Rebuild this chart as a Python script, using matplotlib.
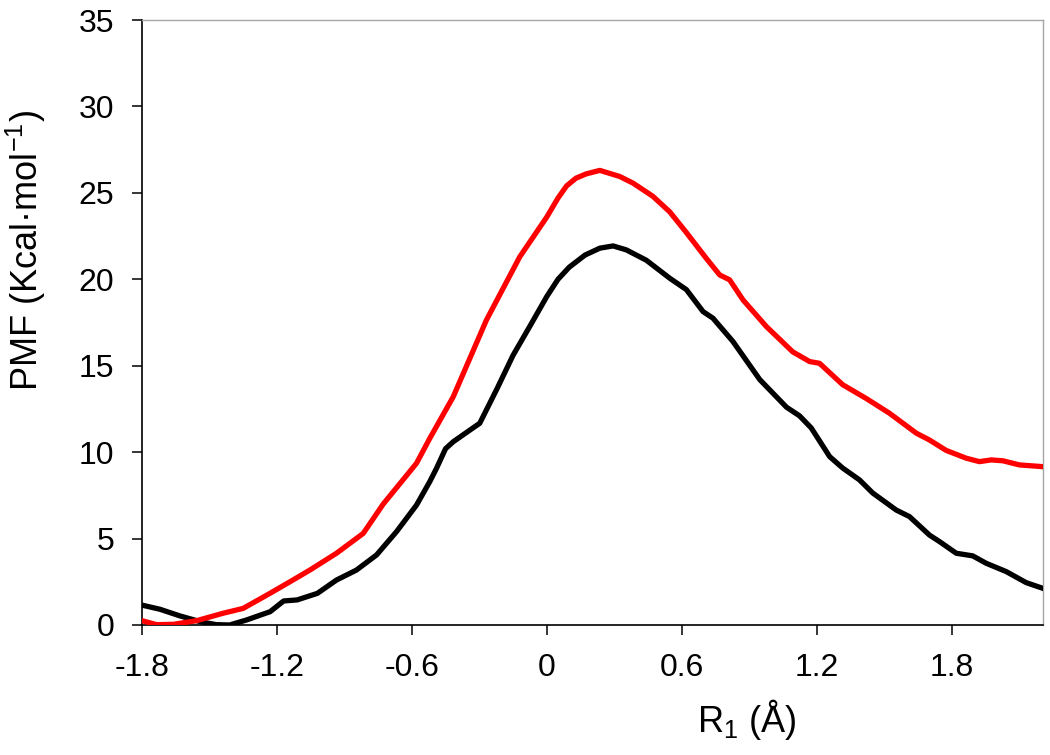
import matplotlib.pyplot as plt

plt.rcParams['font.family'] = ['Liberation Sans', 'DejaVu Sans']
plt.rcParams['mathtext.default'] = 'regular'

# black curve
black_x = [-1.80, -1.72, -1.63, -1.54, -1.47, -1.41, -1.335, -1.23, -1.17, -1.11,
           -1.02, -0.935, -0.846, -0.757, -0.668, -0.579, -0.52, -0.49, -0.45, -0.416,
           -0.328, -0.298, -0.22, -0.15, -0.07, 0.0, 0.05, 0.10, 0.17, 0.236, 0.295, 0.354,
           0.443, 0.547, 0.621, 0.695, 0.739, 0.828, 0.947, 1.066, 1.124, 1.176,
           1.258, 1.316, 1.391, 1.449, 1.554, 1.613, 1.702, 1.747, 1.821, 1.894,
           1.954, 2.043, 2.132, 2.206]
black_y = [1.15, 0.91, 0.52, 0.19, 0.02, 0.0, 0.29, 0.77, 1.39, 1.45,
           1.83, 2.6, 3.18, 4.05, 5.4, 6.94, 8.3, 9.07, 10.2, 10.6,
           11.4, 11.67, 13.7, 15.6, 17.4, 19.0, 20.0, 20.7, 21.4, 21.8, 21.93, 21.7,
           21.1, 20.06, 19.4, 18.13, 17.75, 16.4, 14.2, 12.6, 12.1, 11.4,
           9.74, 9.08, 8.39, 7.64, 6.65, 6.27, 5.2, 4.82, 4.15, 4.0,
           3.57, 3.09, 2.45, 2.12]

# red curve
red_x = [-1.80, -1.735, -1.66, -1.557, -1.439, -1.35, -1.231, -1.142, -1.053, -0.935,
         -0.816, -0.727, -0.639, -0.579, -0.52, -0.416, -0.268, -0.12, 0.0, 0.05, 0.088,
         0.13, 0.176, 0.236, 0.324, 0.384, 0.472, 0.547, 0.621, 0.71, 0.769, 0.813,
         0.873, 0.977, 1.094, 1.169, 1.213, 1.316, 1.421, 1.524, 1.643, 1.702,
         1.776, 1.865, 1.924, 1.976, 2.028, 2.102, 2.206]
red_y = [0.25, 0.02, 0.04, 0.25, 0.68, 0.96, 1.83, 2.5, 3.18, 4.15,
         5.3, 7.0, 8.4, 9.36, 10.8, 13.2, 17.65, 21.3, 23.6, 24.7, 25.4,
         25.85, 26.1, 26.3, 25.95, 25.56, 24.8, 23.9, 22.7, 21.2, 20.25, 19.97,
         18.8, 17.26, 15.8, 15.24, 15.14, 13.9, 13.1, 12.25, 11.1, 10.7,
         10.1, 9.65, 9.45, 9.55, 9.5, 9.26, 9.16]

x_ticks = [-1.8, -1.2, -0.6, 0, 0.6, 1.2, 1.8]
x_labels = ['-1.8', '-1.2', '-0.6', '0', '0.6', '1.2', '1.8']
y_ticks = [0, 5, 10, 15, 20, 25, 30, 35]

fig = plt.figure(figsize=(10.5, 7.55), dpi=100)
ax = fig.add_axes([0.1352, 0.1722, 0.858, 0.8013])

ax.plot(black_x, black_y, color='black', lw=3.8, solid_joinstyle='round', zorder=3)
ax.plot(red_x, red_y, color='#ff0000', lw=3.8, solid_joinstyle='round', zorder=3)

ax.set_xlim(-1.8, 2.206)
ax.set_ylim(0, 35)
ax.set_xticks(x_ticks)
ax.set_xticklabels(x_labels)
ax.set_yticks(y_ticks)

ax.tick_params(axis='x', direction='out', length=7, width=1.1, labelsize=23, pad=13)
ax.tick_params(axis='y', direction='out', length=7, width=1.1, labelsize=23, pad=13)

for s in ['left', 'bottom']:
    ax.spines[s].set_color('black')
    ax.spines[s].set_linewidth(1.2)
for s in ['top', 'right']:
    ax.spines[s].set_color('#a6a6a6')
    ax.spines[s].set_linewidth(1.0)

fig.text(0.0245, 0.668, 'PMF (Kcal·mol$^{-1}$)', rotation=90, fontsize=26,
         ha='center', va='center')
fig.text(0.711, 0.047, 'R$_{1}$ (Å)', fontsize=26, ha='center', va='center')

fig.savefig('out.png', dpi=100)
